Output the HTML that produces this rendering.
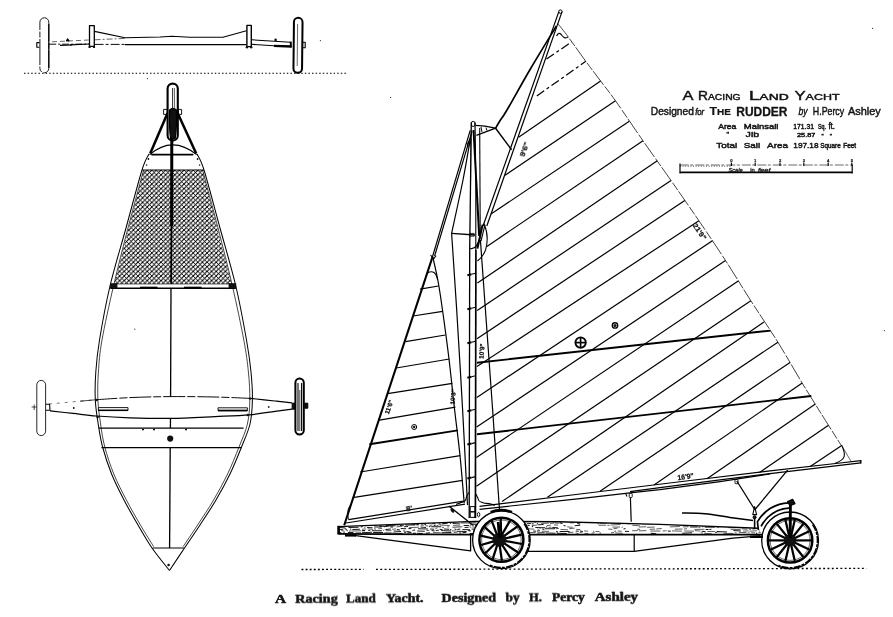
<!DOCTYPE html>
<html lang="en">
<head>
<meta charset="utf-8">
<title>A Racing Land Yacht</title>
<style>
html,body{margin:0;padding:0;background:#fff;}
body{width:893px;height:617px;overflow:hidden;font-family:"Liberation Sans",sans-serif;}
svg{display:block;}
</style>
</head>
<body>
<svg width="893" height="617" viewBox="0 0 893 617" stroke="#000" fill="none" stroke-linecap="butt" stroke-linejoin="round">
<defs>
<pattern id="hatch" width="4.6" height="4.6" patternUnits="userSpaceOnUse">
<path d="M-1,5.6 L5.6,-1 M-1,1 L1,-1 M3.6,5.6 L5.6,3.6" stroke="#000" stroke-width="1.12"/>
<path d="M-1,-1 L5.6,5.6 M-1,3.6 L1,5.6 M3.6,-1 L5.6,1" stroke="#000" stroke-width="0.85"/>
</pattern>
<pattern id="grain" width="7" height="4" patternUnits="userSpaceOnUse">
<path d="M0,1 H4 M2,3 H7 M5.5,1.8 H6.5" stroke="#222" stroke-width="0.9"/>
</pattern>
</defs>
<rect x="0" y="0" width="893" height="617" fill="#fff" stroke="none"/>
<g id="front-view">
<line x1="24.00" y1="73.30" x2="348.00" y2="73.30" stroke-width="1.02" stroke-dasharray="1.5 2.1"/>
<rect x="39.9" y="17.8" width="8.9" height="55" rx="4.4" stroke-width="0.9" fill="#fff" stroke-dasharray="26 1.5 6 1.5"/>
<line x1="48.80" y1="24.00" x2="48.80" y2="68.00" stroke-width="1.2" />
<rect x="293.7" y="17.8" width="8.6" height="55" rx="4.3" stroke-width="2.0" fill="#fff" transform="rotate(0.6 298 45)"/>
<line x1="297.60" y1="24.00" x2="297.20" y2="66.00" stroke-width="0.6" />
<path d="M39.4,42.6 L36.8,42.6 L36.8,47.2 L39.4,47.2" stroke-width="1.08" fill="none" />
<rect x="302.6" y="42.2" width="2.6" height="5.6" stroke-width="1.1"/>
<line x1="49.20" y1="44.20" x2="88.80" y2="44.20" stroke-width="0.96" stroke-dasharray="7 2 2 2"/>
<line x1="60.00" y1="45.40" x2="72.00" y2="45.00" stroke-width="1.08" />
<line x1="70.00" y1="44.80" x2="89.00" y2="44.00" stroke-width="1.2" />
<line x1="94.60" y1="44.40" x2="125.00" y2="44.40" stroke-width="0.96" stroke-dasharray="9 2 3 2"/>
<line x1="125.00" y1="44.60" x2="246.40" y2="44.60" stroke-width="1.2" />
<line x1="52.00" y1="41.80" x2="88.60" y2="40.00" stroke-width="0.6" stroke-dasharray="5 3"/>
<line x1="94.60" y1="39.80" x2="125.00" y2="38.40" stroke-width="0.6" stroke-dasharray="6 2 2 2"/>
<path d="M94.50,31.40 L125.00,37.80 L160.00,37.00 L172.00,36.20 L190.00,37.20 L223.00,37.20 L246.40,30.80" stroke-width="1.08" fill="none" />
<path d="M251.60,39.80 L290.40,42.30" stroke-width="1.08" fill="none" />
<path d="M251.60,44.30 L274.00,45.80" stroke-width="1.08" fill="none" />
<path d="M274.00,45.90 L291.60,46.50" stroke-width="2.28" fill="none" />
<line x1="290.80" y1="41.60" x2="290.80" y2="47.40" stroke-width="1.92" />
<rect x="89.5" y="25.6" width="4.8" height="20.8" stroke-width="1.3" fill="#fff"/>
<rect x="246.9" y="25.4" width="4.4" height="21.2" stroke-width="1.4" fill="#fff"/>
<circle cx="89.6" cy="46.9" r="1.2" fill="#111" stroke="none"/>
<circle cx="94.0" cy="46.9" r="1.2" fill="#111" stroke="none"/>
<circle cx="246.9" cy="47.2" r="1.2" fill="#111" stroke="none"/>
<circle cx="251.2" cy="47.2" r="1.2" fill="#111" stroke="none"/>
<path d="M66.2,41 L67.6,38.6 L69.2,41 Z" stroke-width="0.96" fill="#111" />
<circle cx="275.6" cy="39.9" r="1.3" fill="#111" stroke="none"/>
</g>
<g id="plan-view">
<path d="M143.60,170.00 L202.60,170.00 L231.50,284.00 L114.20,284.00 Z" stroke-width="0.0" fill="url(#hatch)" stroke="none"/>
<path d="M149.00,154.00 C147.83,156.67 145.83,157.67 142.00,170.00 C138.17,182.33 131.33,208.67 126.00,228.00 C120.67,247.33 114.42,267.33 110.00,286.00 C105.58,304.67 101.87,325.67 99.50,340.00 C97.13,354.33 96.50,362.00 95.80,372.00 C95.10,382.00 94.90,391.33 95.30,400.00 C95.70,408.67 96.98,416.17 98.20,424.00 C99.42,431.83 100.37,438.67 102.60,447.00 C104.83,455.33 108.03,465.17 111.60,474.00 C115.17,482.83 119.60,491.50 124.00,500.00 C128.40,508.50 133.33,517.00 138.00,525.00 C142.67,533.00 146.75,540.42 152.00,548.00 C157.25,555.58 166.58,566.75 169.50,570.50" stroke-width="1.02" fill="none" />
<path d="M197.00,154.00 C198.17,156.67 200.17,157.67 204.00,170.00 C207.83,182.33 214.70,208.67 220.00,228.00 C225.30,247.33 231.38,267.33 235.80,286.00 C240.22,304.67 243.97,325.67 246.50,340.00 C249.03,354.33 250.02,362.00 251.00,372.00 C251.98,382.00 252.57,391.33 252.40,400.00 C252.23,408.67 251.82,416.17 250.00,424.00 C248.18,431.83 244.83,438.67 241.50,447.00 C238.17,455.33 234.25,465.17 230.00,474.00 C225.75,482.83 221.00,491.50 216.00,500.00 C211.00,508.50 205.25,517.00 200.00,525.00 C194.75,533.00 189.58,540.42 184.50,548.00 C179.42,555.58 172.00,566.75 169.50,570.50" stroke-width="1.02" fill="none" />
<path d="M143.60,170.00 C141.00,179.67 133.02,208.67 128.00,228.00 C122.98,247.33 117.83,267.33 113.50,286.00 C109.17,304.67 104.52,325.67 102.00,340.00 C99.48,354.33 99.08,362.00 98.40,372.00 C97.72,382.00 97.53,391.33 97.90,400.00 C98.27,408.67 99.45,416.17 100.60,424.00 C101.75,431.83 102.60,438.67 104.80,447.00 C107.00,455.33 110.20,465.17 113.80,474.00 C117.40,482.83 121.97,491.50 126.40,500.00 C130.83,508.50 135.87,517.25 140.40,525.00 C144.93,532.75 151.40,542.92 153.60,546.50" stroke-width="0.72" fill="none" />
<path d="M202.60,170.00 C205.17,179.67 213.03,208.67 218.00,228.00 C222.97,247.33 228.10,267.33 232.40,286.00 C236.70,304.67 241.13,325.67 243.80,340.00 C246.47,354.33 247.40,362.00 248.40,372.00 C249.40,382.00 249.97,391.33 249.80,400.00 C249.63,408.67 249.20,416.17 247.40,424.00 C245.60,431.83 242.30,438.67 239.00,447.00 C235.70,455.33 231.83,465.17 227.60,474.00 C223.37,482.83 218.60,491.50 213.60,500.00 C208.60,508.50 202.67,517.25 197.60,525.00 C192.53,532.75 185.60,542.92 183.20,546.50" stroke-width="0.72" fill="none" />
<line x1="142.00" y1="170.00" x2="204.00" y2="170.00" stroke-width="1.2" />
<path d="M149.6,154.6 Q172.5,135 196.6,154.6" stroke-width="1.2" fill="none" />
<line x1="152.00" y1="154.60" x2="192.60" y2="154.60" stroke-width="1.92" stroke-linecap="round"/>
<circle cx="148.4" cy="159" r="0.9" fill="#111" stroke="none"/>
<circle cx="197.6" cy="159" r="0.9" fill="#111" stroke="none"/>
<circle cx="146.6" cy="165" r="0.8" fill="#111" stroke="none"/>
<circle cx="199.6" cy="165" r="0.8" fill="#111" stroke="none"/>
<line x1="167.60" y1="113.00" x2="150.20" y2="153.60" stroke-width="2.52" />
<line x1="177.60" y1="113.00" x2="196.20" y2="153.60" stroke-width="2.52" />
<rect x="167.6" y="83.6" width="10.2" height="56.8" rx="5.0" stroke-width="2.1" fill="#fff"/>
<path d="M169.6,110 Q169,128 170.6,138.5 L175.2,138.5 Q177,128 176.4,110 Q173,106.5 169.6,110 Z" stroke-width="1.2" fill="#111" />
<line x1="172.60" y1="88.00" x2="172.60" y2="108.00" stroke-width="0.84" />
<line x1="174.40" y1="88.00" x2="174.60" y2="108.00" stroke-width="0.6" />
<rect x="163.6" y="109.4" width="3.6" height="5" stroke-width="0.9"/>
<rect x="178.2" y="109.4" width="3.4" height="5" stroke-width="0.9"/>
<line x1="171.80" y1="138.00" x2="171.60" y2="226.00" stroke-width="3.0" />
<line x1="171.50" y1="226.00" x2="171.20" y2="284.00" stroke-width="1.92" />
<line x1="171.00" y1="288.00" x2="170.60" y2="396.50" stroke-width="1.32" />
<line x1="170.50" y1="418.50" x2="170.40" y2="428.00" stroke-width="1.32" />
<line x1="170.20" y1="447.50" x2="169.60" y2="548.00" stroke-width="1.32" />
<rect x="110.4" y="284.2" width="125.4" height="4.0" stroke="none" fill="#fff"/>
<line x1="114.00" y1="284.00" x2="232.00" y2="284.00" stroke-width="0.6" />
<line x1="110.40" y1="288.30" x2="235.80" y2="288.30" stroke-width="1.5" />
<rect x="110" y="283.2" width="7.4" height="5.2" fill="#111" stroke="none"/>
<rect x="228.6" y="283.2" width="7.6" height="5.2" fill="#111" stroke="none"/>
<line x1="140.00" y1="287.80" x2="157.50" y2="287.80" stroke-width="2.28" />
<line x1="184.00" y1="287.80" x2="201.50" y2="287.80" stroke-width="2.28" />
<path d="M95.40,399.80 C101.17,399.43 117.57,398.13 130.00,397.60 C142.43,397.07 155.83,396.70 170.00,396.60 C184.17,396.50 201.58,396.70 215.00,397.00 C228.42,397.30 244.58,398.17 250.50,398.40" stroke-width="0.96" fill="none" stroke-dasharray="22 2 8 2"/>
<line x1="48.80" y1="404.00" x2="95.40" y2="399.80" stroke-width="0.54" stroke-dasharray="3 5"/>
<line x1="80.00" y1="401.20" x2="95.40" y2="399.80" stroke-width="0.72" />
<path d="M250.50,398.40 C254.58,398.83 268.08,400.25 275.00,401.00 C281.92,401.75 289.17,402.58 292.00,402.90" stroke-width="1.08" fill="none" />
<path d="M50.00,410.90 C53.83,411.32 65.25,412.55 73.00,413.40 C80.75,414.25 87.00,415.27 96.50,416.00 C106.00,416.73 117.75,417.40 130.00,417.80 C142.25,418.20 155.83,418.60 170.00,418.40 C184.17,418.20 201.77,417.20 215.00,416.60 C228.23,416.00 239.40,415.67 249.40,414.80 C259.40,413.93 267.90,412.33 275.00,411.40 C282.10,410.47 289.17,409.57 292.00,409.20" stroke-width="1.2" fill="none" />
<rect x="98.4" y="407.6" width="29.6" height="2.9" stroke-width="0.9" fill="#fff"/>
<line x1="98.40" y1="410.30" x2="128.00" y2="410.30" stroke-width="1.56" />
<rect x="218" y="407.8" width="29.4" height="2.9" stroke-width="0.9" fill="#fff"/>
<line x1="218.00" y1="410.50" x2="247.40" y2="410.50" stroke-width="1.68" />
<circle cx="73.8" cy="408" r="0.9" fill="#111" stroke="none"/>
<circle cx="268.7" cy="406.9" r="0.9" fill="#111" stroke="none"/>
<circle cx="96.6" cy="400" r="1.2" fill="#111" stroke="none"/>
<circle cx="97.6" cy="417" r="1.3" fill="#111" stroke="none"/>
<circle cx="250.0" cy="398.6" r="1.2" fill="#111" stroke="none"/>
<circle cx="247.8" cy="415" r="1.2" fill="#111" stroke="none"/>
<rect x="36.8" y="380.4" width="8.8" height="55.2" rx="4.4" stroke-width="0.85" fill="#fff"/>
<line x1="31.60" y1="407.00" x2="36.60" y2="407.00" stroke-width="0.72" />
<line x1="34.20" y1="404.50" x2="34.20" y2="410.00" stroke-width="0.72" />
<path d="M46,404.2 L49.6,404.2 L50,410.2 L46,410.2" stroke-width="1.08" fill="none" />
<rect x="295.4" y="378.6" width="8.4" height="55.8" rx="4.2" stroke-width="2.0" fill="#fff"/>
<line x1="298.00" y1="383.00" x2="298.00" y2="431.00" stroke-width="1.08" />
<line x1="299.80" y1="390.00" x2="299.80" y2="431.00" stroke-width="0.72" />
<line x1="301.60" y1="383.00" x2="301.60" y2="431.00" stroke-width="1.08" />
<rect x="292.2" y="403.2" width="2.6" height="6" stroke-width="1.0" fill="#111"/>
<rect x="304.8" y="403.2" width="3.0" height="5" stroke-width="1.0" fill="#111"/>
<line x1="98.80" y1="428.20" x2="243.60" y2="428.20" stroke-width="1.2" />
<line x1="101.40" y1="447.60" x2="241.40" y2="447.60" stroke-width="1.2" />
<circle cx="170.2" cy="438.6" r="3.1" fill="#111" stroke="none"/>
<line x1="142.00" y1="429.60" x2="144.00" y2="429.60" stroke-width="1.44" />
<line x1="153.00" y1="429.60" x2="155.00" y2="429.60" stroke-width="1.44" />
<line x1="185.00" y1="429.60" x2="187.00" y2="429.60" stroke-width="1.44" />
<line x1="152.60" y1="548.00" x2="184.20" y2="548.00" stroke-width="1.08" />
<circle cx="168.6" cy="565" r="1.3" fill="#111" stroke="none"/>
</g>
<g id="side-view">
<line x1="301.50" y1="569.50" x2="363.50" y2="569.40" stroke-width="1.32" stroke-dasharray="1.9 2.2"/>
<line x1="376.00" y1="569.40" x2="866.40" y2="568.40" stroke-width="1.32" stroke-dasharray="1.9 2.4"/>
<line x1="546.50" y1="59.00" x2="571.60" y2="42.00" stroke-width="1.2" stroke-dasharray="9 3 3 3"/>
<line x1="536.80" y1="96.00" x2="585.80" y2="61.30" stroke-width="1.2" stroke-dasharray="9 3 3 3"/>
<line x1="518.60" y1="137.20" x2="600.60" y2="81.00" stroke-width="1.2" />
<line x1="505.00" y1="175.30" x2="615.50" y2="100.80" stroke-width="1.2" />
<line x1="491.00" y1="214.00" x2="629.30" y2="121.30" stroke-width="1.2" />
<line x1="486.90" y1="246.40" x2="643.00" y2="140.80" stroke-width="1.2" />
<line x1="477.40" y1="283.10" x2="657.30" y2="160.80" stroke-width="1.2" />
<line x1="477.20" y1="310.40" x2="671.00" y2="180.50" stroke-width="1.2" />
<line x1="477.00" y1="338.70" x2="684.80" y2="200.50" stroke-width="1.2" />
<line x1="477.00" y1="366.60" x2="698.90" y2="220.70" stroke-width="1.2" />
<line x1="476.80" y1="397.40" x2="712.40" y2="240.80" stroke-width="1.2" />
<line x1="476.60" y1="427.00" x2="725.50" y2="260.50" stroke-width="1.2" />
<line x1="476.40" y1="457.40" x2="738.60" y2="280.80" stroke-width="1.2" />
<line x1="476.40" y1="486.20" x2="750.80" y2="300.70" stroke-width="1.2" />
<line x1="502.00" y1="501.60" x2="764.00" y2="322.00" stroke-width="1.2" />
<line x1="547.40" y1="497.20" x2="777.90" y2="342.20" stroke-width="1.2" />
<line x1="600.00" y1="491.20" x2="790.00" y2="362.40" stroke-width="1.2" />
<line x1="654.00" y1="485.00" x2="802.20" y2="383.10" stroke-width="1.2" />
<line x1="707.00" y1="478.80" x2="815.40" y2="404.00" stroke-width="1.2" />
<line x1="759.40" y1="472.60" x2="828.50" y2="425.30" stroke-width="1.2" />
<line x1="810.20" y1="466.60" x2="841.70" y2="445.50" stroke-width="1.2" />
<path d="M558.00,23.80 C559.70,25.98 563.57,30.65 568.20,36.90 C572.83,43.15 580.40,53.95 585.80,61.30 C591.20,68.65 595.65,74.42 600.60,81.00 C605.55,87.58 608.43,90.83 615.50,100.80 C622.57,110.77 633.75,127.52 643.00,140.80 C652.25,154.08 661.68,167.18 671.00,180.50 C680.32,193.82 689.82,207.37 698.90,220.70 C707.98,234.03 716.85,247.17 725.50,260.50 C734.15,273.83 742.07,287.08 750.80,300.70 C759.53,314.32 769.33,328.47 777.90,342.20 C786.47,355.93 793.77,369.25 802.20,383.10 C810.63,396.95 822.03,414.98 828.50,425.30 C834.97,435.62 838.92,441.72 841.00,445.00" stroke-width="0.74" fill="none" stroke-dasharray="17 2 9 1.5"/>
<path d="M841.6,445 Q845.2,453 844.2,456.4 Q843,460.6 834.8,463.4" stroke-width="1.08" fill="none" />
<line x1="842.60" y1="447.00" x2="851.20" y2="461.60" stroke-width="0.6" />
<path d="M556.6,36 Q559,31 562,35.5 Q565,39.5 568.2,36.9" stroke-width="1.2" fill="none" />
<line x1="477.00" y1="362.70" x2="770.60" y2="330.60" stroke-width="1.92" />
<line x1="477.00" y1="434.20" x2="811.30" y2="396.00" stroke-width="1.92" />
<path d="M479.50,506.40 L580.00,494.00 L680.00,481.80 L770.00,470.90 L838.00,463.20 L860.80,460.60" stroke-width="1.08" fill="none" />
<path d="M630.00,491.60 L660.00,487.70 L720.00,479.80 L770.00,473.70 L860.80,462.90" stroke-width="1.2" fill="none" />
<path d="M479.50,509.30 L580.00,498.60 L630.00,492.80 L660.00,489.60 L720.00,481.60 L770.00,474.00" stroke-width="1.2" fill="none" />
<line x1="860.80" y1="460.00" x2="860.80" y2="463.60" stroke-width="1.44" />
<line x1="558.85" y1="11.60" x2="483.01" y2="226.00" stroke-width="1.2" />
<line x1="562.05" y1="11.60" x2="486.81" y2="226.00" stroke-width="1.2" />
<circle cx="560.4" cy="11.6" r="1.7" stroke-width="1"/>
<path d="M483.8,223.6 Q489.6,236 485.6,250 Q482.8,257 477.4,261" stroke-width="1.08" fill="none" />
<path d="M470.2,248.4 Q474,249.4 476.6,245.6 Q479.2,241.6 480,237" stroke-width="1.32" fill="none" />
<line x1="482.60" y1="224.60" x2="477.40" y2="248.60" stroke-width="2.04" />
<line x1="485.00" y1="224.60" x2="481.00" y2="241.00" stroke-width="1.08" />
<path d="M556.40,26.00 C552.03,33.20 538.43,55.20 530.20,69.20 C521.97,83.20 512.12,101.28 507.00,110.00 C501.88,118.72 501.40,118.47 499.50,121.50 C497.60,124.53 496.25,127.08 495.60,128.20" stroke-width="1.68" fill="none" />
<line x1="495.60" y1="128.20" x2="511.60" y2="149.80" stroke-width="1.44" />
<path d="M475.60,125.40 L485.00,126.20 L495.60,128.20 L476.40,135.40" stroke-width="1.32" fill="none" />
<line x1="481.00" y1="127.00" x2="482.00" y2="132.00" stroke-width="0.96" />
<line x1="486.00" y1="127.60" x2="487.00" y2="130.60" stroke-width="0.96" />
<line x1="471.30" y1="122.50" x2="469.70" y2="250.00" stroke-width="1.32" />
<line x1="469.70" y1="250.00" x2="469.20" y2="518.00" stroke-width="1.32" />
<line x1="475.00" y1="122.50" x2="475.80" y2="180.00" stroke-width="1.2" />
<line x1="473.50" y1="130.00" x2="476.20" y2="180.00" stroke-width="1.92" />
<line x1="476.20" y1="180.00" x2="479.20" y2="236.00" stroke-width="2.04" />
<line x1="475.80" y1="180.00" x2="475.80" y2="250.00" stroke-width="1.08" />
<line x1="475.90" y1="250.00" x2="475.40" y2="518.00" stroke-width="1.68" />
<line x1="479.70" y1="128.00" x2="480.20" y2="232.00" stroke-width="1.08" />
<rect x="471.4" y="121.4" width="3.6" height="5" rx="1.6" stroke-width="1.0"/>
<line x1="470.80" y1="138.00" x2="470.60" y2="180.00" stroke-width="0.6" />
<line x1="467.40" y1="275.20" x2="471.40" y2="274.20" stroke-width="2.04" />
<line x1="471.40" y1="274.20" x2="475.60" y2="273.20" stroke-width="1.08" />
<line x1="467.40" y1="309.20" x2="471.40" y2="308.20" stroke-width="2.04" />
<line x1="471.40" y1="308.20" x2="475.60" y2="307.20" stroke-width="1.08" />
<line x1="467.40" y1="343.20" x2="471.40" y2="342.20" stroke-width="2.04" />
<line x1="471.40" y1="342.20" x2="475.60" y2="341.20" stroke-width="1.08" />
<line x1="467.40" y1="377.70" x2="471.40" y2="376.70" stroke-width="2.04" />
<line x1="471.40" y1="376.70" x2="475.60" y2="375.70" stroke-width="1.08" />
<line x1="467.40" y1="411.20" x2="471.40" y2="410.20" stroke-width="2.04" />
<line x1="471.40" y1="410.20" x2="475.60" y2="409.20" stroke-width="1.08" />
<line x1="467.40" y1="444.60" x2="471.40" y2="443.60" stroke-width="2.04" />
<line x1="471.40" y1="443.60" x2="475.60" y2="442.60" stroke-width="1.08" />
<line x1="467.40" y1="478.60" x2="471.40" y2="477.60" stroke-width="2.04" />
<line x1="471.40" y1="477.60" x2="475.60" y2="476.60" stroke-width="1.08" />
<rect x="470.2" y="506.6" width="4.8" height="5.2" stroke-width="1"/>
<rect x="470.2" y="511.8" width="4.8" height="5.6" stroke-width="1"/>
<ellipse cx="478.6" cy="514.6" rx="1.2" ry="2.2" stroke-width="0.9"/>
<path d="M475.80,493.60 C476.10,494.27 477.03,496.37 477.60,497.60 C478.17,498.83 478.47,500.23 479.20,501.00 C479.93,501.77 481.10,501.83 482.00,502.20 C482.90,502.57 483.43,502.97 484.60,503.20 C485.77,503.43 487.27,503.27 489.00,503.60 C490.73,503.93 494.00,504.93 495.00,505.20" stroke-width="1.08" fill="none" />
<path d="M468.80,492.60 C468.43,493.23 467.17,495.10 466.60,496.40 C466.03,497.70 466.30,499.37 465.40,500.40 C464.50,501.43 462.77,501.93 461.20,502.60 C459.63,503.27 456.87,504.10 456.00,504.40" stroke-width="1.08" fill="none" />
<line x1="480.40" y1="240.00" x2="492.50" y2="408.00" stroke-width="1.2" />
<line x1="492.50" y1="408.00" x2="499.60" y2="511.60" stroke-width="1.2" />
<path d="M470.40,138.40 C469.17,145.33 466.13,164.18 463.00,180.00 C459.87,195.82 453.50,224.42 451.60,233.30" stroke-width="1.2" fill="none" />
<path d="M451.60,233.30 C451.73,235.25 451.55,232.22 452.40,245.00 C453.25,257.78 455.02,282.83 456.70,310.00 C458.38,337.17 460.70,375.50 462.50,408.00 C464.30,440.50 466.67,488.83 467.50,505.00" stroke-width="1.2" fill="none" />
<line x1="451.60" y1="233.30" x2="474.80" y2="235.00" stroke-width="1.32" />
<rect x="469.8" y="233.4" width="4.4" height="2.8" stroke-width="0.8"/>
<line x1="470.20" y1="130.40" x2="432.40" y2="257.00" stroke-width="1.2" />
<line x1="472.00" y1="131.40" x2="434.60" y2="256.00" stroke-width="1.2" />
<ellipse cx="469.0" cy="143.4" rx="1.3" ry="3.0" transform="rotate(17 469 143.4)" stroke-width="0.9"/>
<line x1="432.60" y1="256.60" x2="344.20" y2="525.20" stroke-width="2.04" />
<path d="M430.6,255 L433.6,259 L436,255.6" stroke-width="1.08" fill="none" />
<path d="M432.80,257.00 C433.67,261.00 436.38,272.17 438.00,281.00 C439.62,289.83 440.67,297.00 442.50,310.00 C444.33,323.00 447.02,342.67 449.00,359.00 C450.98,375.33 452.57,391.92 454.40,408.00 C456.23,424.08 458.37,439.67 460.00,455.50 C461.63,471.33 463.50,495.08 464.20,503.00" stroke-width="1.2" fill="none" />
<path d="M427.4,273 Q435.4,268.6 437.6,280" stroke-width="1.08" fill="none" />
<line x1="420.00" y1="289.20" x2="438.60" y2="286.00" stroke-width="1.2" />
<line x1="413.00" y1="316.00" x2="442.60" y2="311.40" stroke-width="1.2" />
<line x1="405.60" y1="341.60" x2="445.40" y2="335.00" stroke-width="1.2" />
<line x1="396.20" y1="368.00" x2="449.40" y2="359.00" stroke-width="1.2" />
<line x1="387.60" y1="393.60" x2="452.40" y2="383.40" stroke-width="1.2" />
<line x1="378.00" y1="420.40" x2="455.40" y2="407.20" stroke-width="1.2" />
<line x1="369.40" y1="444.20" x2="457.80" y2="430.40" stroke-width="1.92" />
<line x1="360.20" y1="472.00" x2="460.20" y2="455.60" stroke-width="1.2" />
<line x1="352.60" y1="497.60" x2="462.60" y2="480.40" stroke-width="1.2" />
<circle cx="414.2" cy="427" r="2.5" stroke-width="1.0"/>
<circle cx="414.2" cy="427" r="1.2" fill="#111" stroke="none"/>
<line x1="348.60" y1="519.60" x2="463.40" y2="501.20" stroke-width="1.2" />
<line x1="346.00" y1="523.00" x2="465.00" y2="504.20" stroke-width="1.2" />
<path d="M348.6,519.6 Q346,510 350.6,505" stroke-width="0.84" fill="none" />
<line x1="448.80" y1="506.00" x2="473.40" y2="525.40" stroke-width="1.32" />
<ellipse cx="452.4" cy="510.6" rx="1.4" ry="2.4" transform="rotate(-38 452.4 510.6)" fill="#111" stroke="none"/>
<clipPath id="plankclip"><path d="M338.4,526.6 L475.0,521.4 L558.0,521.8 L660.0,524.4 L758.0,528.2 L762.0,534.6 L634.0,534.6 L475.0,534.6 L338.4,533.6 Z"/></clipPath>
<g clip-path="url(#plankclip)" stroke="#1a1a1a">
<path d="M339.3,533.1l2.0,-0.5M343.5,532.6l1.2,-0.5M347.9,532.5l5.5,0.1M355.6,533.0l5.5,-0.1M361.9,532.7l10.0,-0.4M373.1,532.5l10.0,0.1M384.3,533.0l7.5,0.1M392.6,532.9l10.0,0.5M404.2,532.5l2.0,-0.2M407.4,533.0l4.0,-0.5M413.0,533.3l3.0,-0.1M417.2,533.2l5.5,0.4M425.9,533.2l4.0,-0.5M441.4,532.7l10.0,-0.1M459.2,532.8l2.0,0.5M462.4,532.7l4.0,-0.4M469.6,533.4l7.5,0.2M506.1,532.5l1.2,-0.3M508.5,532.4l1.2,-0.4M510.5,533.3l1.2,0.1M518.7,532.9l4.0,-0.5M537.2,533.1l7.5,-0.3M545.5,532.9l10.0,0.3M556.7,533.2l10.0,0.4M599.6,532.9l1.2,0.3M650.7,533.2l5.5,0.5M682.2,533.3l10.0,-0.5M715.1,532.5l2.0,-0.5M756.0,533.4l1.2,-0.5M346.5,530.6l1.2,0.2M349.3,531.3l1.2,-0.5M362.1,530.6l3.0,0.0M368.3,530.6l2.0,-0.4M371.9,530.8l10.0,0.0M393.6,531.0l7.5,0.5M403.3,530.8l2.0,0.4M406.5,531.5l4.0,0.4M417.3,531.1l7.5,0.2M431.6,530.5l3.0,0.5M435.8,530.6l3.0,-0.3M441.0,530.6l10.0,0.4M456.6,531.2l10.0,0.3M467.8,530.6l3.0,0.3M473.0,531.1l10.0,0.3M517.9,531.2l5.5,-0.5M533.2,531.1l3.0,0.2M537.0,531.1l3.0,-0.4M556.1,531.5l2.0,0.5M559.7,531.5l10.0,-0.1M575.7,531.1l3.0,0.2M579.9,531.0l3.0,0.5M625.0,531.3l4.0,0.2M667.8,530.9l3.0,0.4M701.7,531.3l4.0,0.4M717.0,531.4l10.0,0.6M733.4,530.6l7.5,0.3M759.1,530.9l5.5,-0.3M339.2,529.6l4.0,0.2M344.8,528.8l2.0,0.6M350.0,529.1l1.2,0.2M352.4,529.5l7.5,-0.3M385.4,529.5l5.5,-0.5M396.9,529.6l3.0,0.5M400.7,528.6l5.5,0.2M408.4,528.8l3.0,-0.6M418.0,528.7l10.0,0.2M430.2,528.9l4.0,0.3M439.6,529.3l3.0,0.5M443.8,528.9l5.5,0.3M450.1,529.5l1.2,0.2M454.5,529.1l2.0,0.5M457.3,529.4l3.0,-0.4M462.5,529.4l7.5,0.3M471.6,529.0l3.0,0.3M476.8,528.8l10.0,-0.5M514.3,529.2l3.0,-0.2M542.3,529.0l2.0,0.4M545.1,528.7l10.0,0.1M623.5,528.9l2.0,-0.4M705.6,529.4l3.0,0.0M709.4,529.5l2.0,-0.2M752.5,528.9l5.5,-0.6M339.8,527.4l5.5,0.5M348.5,527.4l10.0,-0.2M360.7,527.0l2.0,-0.5M367.1,527.4l5.5,0.3M374.2,527.1l7.5,-0.2M383.9,526.7l5.5,-0.6M390.2,526.9l3.0,0.1M404.1,526.8l4.0,-0.4M420.5,527.1l5.5,0.5M429.2,526.8l1.2,-0.6M431.2,526.7l10.0,0.1M464.6,527.4l4.0,-0.1M476.0,527.0l5.5,0.5M483.1,526.9l5.5,0.5M489.4,526.9l2.0,-0.1M511.4,527.6l1.2,-0.4M515.8,527.7l2.0,0.2M531.9,526.8l1.2,-0.4M535.3,527.5l10.0,0.2M546.1,527.0l1.2,-0.2M552.3,527.6l5.5,0.1M690.1,526.9l7.5,0.2M338.2,525.0l5.5,0.3M344.9,525.3l1.2,-0.4M349.3,525.3l10.0,-0.1M369.6,525.1l3.0,-0.1M373.4,525.4l4.0,-0.5M379.0,525.8l5.5,0.6M385.7,525.6l10.0,0.2M399.7,525.6l4.0,0.2M405.3,525.1l10.0,-0.1M416.5,524.8l2.0,0.3M433.7,525.5l2.0,-0.3M463.6,525.5l5.5,-0.1M469.9,525.0l3.0,-0.4M475.1,525.5l4.0,-0.3M480.3,525.0l7.5,-0.2M505.3,525.0l2.0,-0.1M517.2,525.1l3.0,-0.3M527.6,525.6l2.0,-0.2M538.1,524.8l5.5,-0.2M563.6,525.5l2.0,0.4M574.7,525.7l5.5,-0.4M759.7,525.6l3.0,0.3M352.0,523.4l5.5,0.1M359.1,523.3l2.0,0.1M362.7,522.9l2.0,0.6M365.9,523.7l7.5,-0.4M384.3,523.5l4.0,-0.3M391.5,523.7l4.0,0.6M398.7,523.3l2.0,-0.6M411.6,523.8l7.5,0.2M421.3,523.9l2.0,0.2M424.1,523.9l2.0,0.6M432.3,523.6l3.0,0.2M438.5,523.7l2.0,0.5M442.1,523.7l5.5,-0.5M449.8,523.4l1.2,-0.4M452.6,523.4l7.5,0.5M472.1,523.9l10.0,0.5M484.3,523.9l1.2,-0.2M487.7,523.2l3.0,0.3M491.9,523.8l2.0,-0.3M496.1,523.7l3.0,-0.2M518.5,523.9l3.0,-0.6M522.7,522.9l2.0,0.4M526.9,523.8l4.0,-0.3M531.7,523.7l2.0,0.3M536.9,523.6l1.2,0.3M559.6,523.1l3.0,0.4M577.2,523.5l3.0,0.5M678.2,523.0l1.2,-0.5M682.6,523.0l1.2,-0.2M704.4,523.5l3.0,0.1M338.5,521.1l10.0,0.3M349.3,521.5l5.5,0.3M356.0,521.8l4.0,-0.3M370.9,521.5l4.0,-0.4M377.1,521.7l5.5,-0.5M384.8,521.9l10.0,0.6M400.0,521.6l10.0,0.6M411.6,521.5l7.5,-0.2M421.3,521.6l1.2,-0.5M423.3,521.3l5.5,-0.4M445.2,521.5l1.2,-0.2M450.4,521.7l5.5,0.0M458.1,521.3l2.0,0.2M470.6,522.0l5.5,-0.1M479.3,522.1l5.5,0.1M488.0,521.9l2.0,-0.5M493.2,521.9l5.5,0.1M500.9,521.4l1.2,0.3M505.3,522.0l3.0,0.5M516.8,521.2l1.2,-0.3M520.2,521.4l5.5,0.5M534.0,521.8l2.0,0.1M538.2,521.1l7.5,0.4M547.9,521.1l4.0,0.5M559.3,521.7l4.0,-0.1M606.3,521.1l10.0,0.3M618.5,521.8l7.5,0.3M628.8,521.2l3.0,-0.2" stroke-width="1.05"/>
<path d="M433.1,532.5l7.5,0.2M453.6,532.6l4.0,-0.5M479.3,532.6l1.2,0.2M481.7,532.7l2.0,-0.4M485.3,533.1l3.0,0.0M492.9,532.8l10.0,-0.1M512.5,532.8l3.0,-0.5M524.9,533.2l3.0,-0.4M530.1,532.5l5.5,0.1M567.9,532.8l5.5,-0.6M575.6,533.1l3.0,0.5M579.8,532.5l3.0,-0.5M584.4,533.4l4.0,0.1M591.6,533.2l3.0,-0.5M611.0,532.9l3.0,-0.4M615.2,532.9l7.5,0.5M700.8,532.9l2.0,0.0M704.4,533.3l7.5,0.5M723.5,533.3l10.0,0.2M734.7,532.6l2.0,0.5M738.9,532.6l7.5,-0.1M747.6,532.7l2.0,0.3M751.2,532.8l4.0,0.0M758.4,532.7l10.0,-0.4M341.3,530.6l3.0,0.5M351.3,531.0l10.0,-0.2M383.1,530.5l1.2,-0.6M385.9,530.7l5.5,-0.1M412.1,530.7l3.0,-0.5M426.4,530.5l3.0,-0.2M451.8,530.8l4.0,0.2M486.2,531.1l5.5,0.4M494.9,530.6l10.0,-0.5M506.1,531.1l4.0,0.2M512.3,530.5l4.0,0.4M524.2,530.7l1.2,0.3M541.6,531.2l7.5,0.2M584.1,530.9l4.0,0.3M593.1,531.2l1.2,0.5M595.5,531.5l4.0,0.1M614.2,531.3l2.0,-0.1M617.8,531.0l4.0,0.3M632.2,530.7l5.5,-0.1M638.9,530.9l7.5,-0.3M650.4,531.1l10.0,-0.1M662.6,531.0l4.0,-0.3M672.0,530.9l10.0,0.3M684.2,531.0l10.0,0.1M695.0,530.6l5.5,0.5M707.3,531.5l7.5,-0.0M743.1,531.1l5.5,-0.2M749.4,531.2l7.5,-0.5M362.1,529.3l4.0,-0.4M367.7,528.8l5.5,0.6M374.0,528.8l2.0,0.3M378.2,528.8l4.0,-0.3M392.1,529.3l4.0,-0.4M413.6,529.6l1.2,-0.4M435.4,528.6l2.0,-0.6M492.2,528.7l3.0,-0.5M498.4,528.8l4.0,-0.1M503.6,529.4l7.5,0.2M528.8,528.8l5.5,0.4M537.5,529.1l1.2,0.4M539.5,528.8l1.2,-0.5M555.9,528.7l3.0,-0.4M560.5,529.4l7.5,0.4M569.2,528.7l5.5,-0.6M576.3,529.4l4.0,0.2M608.3,529.0l4.0,0.4M613.5,528.7l4.0,-0.5M637.1,529.2l3.0,0.2M649.6,529.4l5.5,-0.4M656.3,529.0l5.5,-0.5M674.9,529.2l7.5,-0.2M684.0,529.1l3.0,-0.4M694.4,529.4l10.0,-0.1M730.6,529.3l10.0,0.3M741.8,528.8l5.5,0.5M748.9,529.1l2.0,0.5M364.3,527.5l1.2,-0.3M396.4,526.9l5.5,-0.6M408.9,527.7l10.0,-0.5M442.0,527.3l2.0,0.0M447.2,527.0l2.0,-0.2M452.4,527.4l10.0,-0.6M469.4,526.8l2.0,0.5M472.2,527.0l3.0,0.1M493.0,527.2l10.0,0.4M506.2,527.3l4.0,-0.2M519.4,527.4l7.5,0.3M548.5,527.4l3.0,-0.2M567.2,526.9l5.5,0.4M612.5,527.1l7.5,-0.1M621.6,527.6l1.2,-0.6M638.9,527.0l7.5,-0.2M647.2,527.4l7.5,-0.4M669.8,526.9l10.0,-0.4M683.0,526.9l5.5,-0.2M698.4,527.4l2.0,-0.1M702.0,526.9l1.2,-0.1M704.8,527.4l10.0,0.0M717.0,527.3l2.0,-0.1M727.8,527.6l7.5,0.2M738.5,527.3l3.0,-0.5M743.1,527.0l7.5,-0.1M751.8,527.4l4.0,0.5M360.9,525.2l7.5,0.3M396.5,525.2l2.0,0.2M420.7,525.3l3.0,-0.1M425.3,525.7l3.0,0.4M429.5,525.3l3.0,-0.2M436.5,525.6l2.0,-0.2M439.7,525.0l10.0,0.5M452.9,525.6l7.5,0.4M493.8,525.4l1.2,0.2M496.2,525.6l7.5,-0.5M508.1,525.1l7.5,0.3M522.4,525.2l3.0,0.0M531.8,525.6l5.5,-0.6M546.8,525.6l4.0,-0.5M554.0,524.9l4.0,0.2M598.7,525.3l7.5,-0.1M607.4,525.4l2.0,-0.1M610.6,525.0l10.0,-0.5M632.3,525.3l7.5,0.5M680.2,525.6l4.0,-0.1M704.2,525.4l10.0,-0.2M721.6,525.1l10.0,-0.6M746.8,525.1l7.5,-0.5M756.5,525.1l2.0,-0.5M341.2,523.1l10.0,0.1M375.6,522.9l5.5,-0.6M401.9,523.4l7.5,0.4M427.7,523.0l3.0,0.1M460.9,523.0l10.0,0.1M507.5,523.5l1.2,0.4M515.1,523.2l1.2,0.5M541.3,523.5l7.5,-0.4M550.0,523.4l4.0,-0.2M554.8,522.9l4.0,0.5M570.0,523.0l4.0,-0.2M597.7,523.8l1.2,0.3M599.7,523.4l7.5,-0.3M610.4,522.9l1.2,-0.5M612.8,523.0l3.0,-0.1M627.8,523.8l2.0,-0.1M636.9,523.1l3.0,-0.2M642.1,523.7l10.0,0.4M662.8,523.4l3.0,-0.5M673.8,523.2l1.2,0.2M709.6,523.4l7.5,0.1M718.7,523.1l3.0,-0.3M730.2,523.5l2.0,-0.0M733.8,523.7l3.0,-0.4M737.6,523.4l4.0,0.4M749.1,523.6l4.0,-0.4M362.2,521.7l5.5,0.2M398.0,521.1l1.2,0.1M432.0,522.0l10.0,0.1M447.6,521.8l2.0,-0.2M462.3,521.8l7.5,-0.6M476.9,521.3l1.2,0.3M509.1,521.1l5.5,-0.3M553.1,522.0l3.0,-0.2M578.1,521.5l2.0,0.3M581.7,522.1l2.0,0.0M588.9,521.5l5.5,0.0M642.7,522.0l10.0,-0.4M670.6,521.5l2.0,0.1M690.8,522.1l7.5,0.2M710.7,521.9l4.0,-0.3M717.9,522.0l4.0,0.2M724.1,521.6l7.5,0.2M758.2,521.6l7.5,-0.3" stroke-width="0.7"/>
</g>
<path d="M338.40,526.60 L475.00,521.40 L558.00,521.80 L660.00,524.40 L758.00,528.20" stroke-width="1.44" fill="none" />
<path d="M338.40,533.80 L475.00,534.60 L762.00,534.60" stroke-width="1.68" fill="none" />
<line x1="338.60" y1="525.80" x2="338.60" y2="534.40" stroke-width="2.64" />
<path d="M352.00,535.20 L470.60,550.80 L470.60,534.60" stroke-width="1.32" fill="none" />
<path d="M527.00,551.40 L634.20,551.40 L634.20,534.60" stroke-width="1.2" fill="none" />
<path d="M634.20,551.40 L733.00,538.20 L760.00,535.80" stroke-width="1.2" fill="none" />
<line x1="345.00" y1="535.40" x2="356.00" y2="535.40" stroke-width="2.4" />
<rect x="629.2" y="493.2" width="3.0" height="4.4" rx="1" stroke-width="0.9"/>
<line x1="630.40" y1="497.60" x2="631.20" y2="521.80" stroke-width="1.2" />
<line x1="625.60" y1="493.60" x2="627.00" y2="496.60" stroke-width="1.08" />
<rect x="735" y="479.4" width="3.0" height="4.4" rx="1" stroke-width="0.9"/>
<line x1="736.80" y1="481.00" x2="754.40" y2="509.00" stroke-width="1.32" />
<line x1="754.60" y1="510.00" x2="787.60" y2="470.20" stroke-width="1.32" />
<path d="M752.8,514.6 L754.6,506.6 L756.6,514.6 Z" stroke-width="1.08" fill="none" />
<circle cx="754.6" cy="517.2" r="1.9" fill="#111" stroke="none"/>
<line x1="754.60" y1="518.00" x2="754.60" y2="529.00" stroke-width="1.56" />
<path d="M682.00,513.00 C685.83,513.13 697.00,513.07 705.00,513.80 C713.00,514.53 722.00,516.27 730.00,517.40 C738.00,518.53 749.17,520.07 753.00,520.60" stroke-width="1.56" fill="none" />
<circle cx="501.4" cy="539.8" r="28.8" stroke-width="1.3" fill="#fff"/>
<path d="M524.17,523.85 A27.8,27.8 0 0 1 489.65,565.00" stroke-width="1.5" stroke-dasharray="7 1.2 3 1"/>
<circle cx="501.4" cy="539.8" r="22.0" stroke-width="2.5"/>
<circle cx="501.4" cy="539.8" r="19.8" stroke-width="0.6"/>
<line x1="503.52" y1="540.63" x2="521.98" y2="543.97" stroke-width="2.22" />
<line x1="502.75" y1="542.34" x2="518.13" y2="552.49" stroke-width="2.22" />
<line x1="501.31" y1="543.54" x2="510.97" y2="558.49" stroke-width="2.22" />
<line x1="499.50" y1="544.00" x2="501.91" y2="560.79" stroke-width="2.22" />
<line x1="497.67" y1="543.63" x2="492.75" y2="558.94" stroke-width="2.22" />
<line x1="496.18" y1="542.50" x2="485.31" y2="553.29" stroke-width="2.22" />
<line x1="495.33" y1="540.83" x2="481.05" y2="544.97" stroke-width="2.22" />
<line x1="495.28" y1="538.97" x2="480.82" y2="535.63" stroke-width="2.22" />
<line x1="496.05" y1="537.26" x2="484.67" y2="527.11" stroke-width="2.22" />
<line x1="497.49" y1="536.06" x2="491.83" y2="521.11" stroke-width="2.22" />
<line x1="499.30" y1="535.60" x2="500.89" y2="518.81" stroke-width="2.22" />
<line x1="501.13" y1="535.97" x2="510.05" y2="520.66" stroke-width="2.22" />
<line x1="502.62" y1="537.10" x2="517.49" y2="526.31" stroke-width="2.22" />
<line x1="503.47" y1="538.77" x2="521.75" y2="534.63" stroke-width="2.22" />
<circle cx="499.4" cy="539.8" r="7.0" fill="#111" stroke="none"/>
<circle cx="790.1" cy="540.4" r="28.4" stroke-width="1.3" fill="#fff"/>
<path d="M812.54,524.68 A27.4,27.4 0 0 1 778.52,565.23" stroke-width="1.5" stroke-dasharray="7 1.2 3 1"/>
<circle cx="790.1" cy="540.4" r="22.2" stroke-width="2.5"/>
<circle cx="790.1" cy="540.4" r="20.0" stroke-width="0.6"/>
<line x1="793.82" y1="540.40" x2="811.30" y2="540.40" stroke-width="2.22" />
<line x1="793.45" y1="542.01" x2="809.20" y2="549.60" stroke-width="2.22" />
<line x1="792.42" y1="543.31" x2="803.32" y2="556.97" stroke-width="2.22" />
<line x1="790.93" y1="544.03" x2="794.82" y2="561.07" stroke-width="2.22" />
<line x1="789.27" y1="544.03" x2="785.38" y2="561.07" stroke-width="2.22" />
<line x1="787.78" y1="543.31" x2="776.88" y2="556.97" stroke-width="2.22" />
<line x1="786.75" y1="542.01" x2="771.00" y2="549.60" stroke-width="2.22" />
<line x1="786.38" y1="540.40" x2="768.90" y2="540.40" stroke-width="2.22" />
<line x1="786.75" y1="538.79" x2="771.00" y2="531.20" stroke-width="2.22" />
<line x1="787.78" y1="537.49" x2="776.88" y2="523.83" stroke-width="2.22" />
<line x1="789.27" y1="536.77" x2="785.38" y2="519.73" stroke-width="2.22" />
<line x1="790.93" y1="536.77" x2="794.82" y2="519.73" stroke-width="2.22" />
<line x1="792.42" y1="537.49" x2="803.32" y2="523.83" stroke-width="2.22" />
<line x1="793.45" y1="538.79" x2="809.20" y2="531.20" stroke-width="2.22" />
<circle cx="790.1" cy="540.4" r="6.2" fill="#111" stroke="none"/>
<path d="M490.6,512.2 Q501,507.6 512,512.2" stroke-width="2.4" fill="none" />
<line x1="498.00" y1="522.00" x2="499.20" y2="538.00" stroke-width="2.4" />
<line x1="501.00" y1="522.00" x2="501.60" y2="538.00" stroke-width="1.68" />
<path d="M757.21,522.17 A37.6,37.6 0 0 1 788.79,502.82" stroke-width="1.8"/>
<path d="M761.16,526.28 A32.2,32.2 0 0 1 788.98,508.22" stroke-width="1.8"/>
<line x1="757.40" y1="522.20" x2="758.40" y2="530.20" stroke-width="1.68" />
<line x1="790.40" y1="503.40" x2="790.20" y2="538.00" stroke-width="2.88" />
<path d="M787.6,501.6 L792.6,499.4 L795.0,503.6 L790.0,505.8 Z" stroke-width="1.2" fill="#111" />
<line x1="750.00" y1="536.80" x2="763.00" y2="536.80" stroke-width="2.4" />
</g>
<circle cx="320.4" cy="40.6" r="0.6" fill="#333" stroke="none"/>
<circle cx="390.6" cy="97.4" r="0.6" fill="#333" stroke="none"/>
<circle cx="147.4" cy="78.6" r="0.6" fill="#333" stroke="none"/>
<circle cx="884.4" cy="330.6" r="0.6" fill="#333" stroke="none"/>
<circle cx="872.6" cy="28.4" r="0.6" fill="#333" stroke="none"/>
<circle cx="134.8" cy="329.2" r="0.6" fill="#333" stroke="none"/>
<g id="lettering" opacity="0.99">
<text x="682.5" y="99.6" font-family='"Liberation Sans", sans-serif' fill="#111" stroke="#111" stroke-width="0.45" stroke-linejoin="round" textLength="11.0" lengthAdjust="spacingAndGlyphs"><tspan font-size="12.6">A</tspan></text>
<text x="698.0" y="99.6" font-family='"Liberation Sans", sans-serif' fill="#111" stroke="#111" stroke-width="0.45" stroke-linejoin="round" textLength="42.6" lengthAdjust="spacingAndGlyphs"><tspan font-size="12.6">R</tspan><tspan font-size="9.4">ACING</tspan></text>
<text x="749.0" y="99.6" font-family='"Liberation Sans", sans-serif' fill="#111" stroke="#111" stroke-width="0.45" stroke-linejoin="round" textLength="39.7" lengthAdjust="spacingAndGlyphs"><tspan font-size="12.6">L</tspan><tspan font-size="9.4">AND</tspan></text>
<text x="794.4" y="99.6" font-family='"Liberation Sans", sans-serif' fill="#111" stroke="#111" stroke-width="0.45" stroke-linejoin="round" textLength="45.3" lengthAdjust="spacingAndGlyphs"><tspan font-size="12.6">Y</tspan><tspan font-size="9.4">ACHT</tspan></text>
<text x="650.8" y="115.4" font-family='"Liberation Sans", sans-serif' fill="#111" stroke="#111" stroke-width="0.45" stroke-linejoin="round" textLength="43.0" lengthAdjust="spacingAndGlyphs"><tspan font-size="11">Designed</tspan></text>
<text x="695.2" y="115.4" font-family='"Liberation Sans", sans-serif' fill="#111" stroke="#111" stroke-width="0.45" stroke-linejoin="round" textLength="9.0" lengthAdjust="spacingAndGlyphs"><tspan font-size="9.6" font-style="italic">for</tspan></text>
<text x="709.4" y="115.4" font-family='"Liberation Sans", sans-serif' fill="#111" stroke="#111" stroke-width="0.2" textLength="21.4" lengthAdjust="spacingAndGlyphs"><tspan font-size="11.4" font-weight="bold">T</tspan><tspan font-size="9.2" font-weight="bold">HE</tspan></text>
<text x="736.3" y="115.6" font-family='"Liberation Sans", sans-serif' fill="#111" stroke="#111" stroke-width="0.3" textLength="51.2" lengthAdjust="spacingAndGlyphs"><tspan font-size="12.2" font-weight="bold">RUDDER</tspan></text>
<text x="798.4" y="115.4" font-family='"Liberation Sans", sans-serif' fill="#111" stroke="#111" stroke-width="0.45" stroke-linejoin="round" textLength="9.0" lengthAdjust="spacingAndGlyphs"><tspan font-size="11" font-style="italic">by</tspan></text>
<text x="812.8" y="115.4" font-family='"Liberation Sans", sans-serif' fill="#111" stroke="#111" stroke-width="0.45" stroke-linejoin="round" textLength="31.4" lengthAdjust="spacingAndGlyphs"><tspan font-size="11">H.Percy</tspan></text>
<text x="848.0" y="115.4" font-family='"Liberation Sans", sans-serif' fill="#111" stroke="#111" stroke-width="0.45" stroke-linejoin="round" textLength="32.8" lengthAdjust="spacingAndGlyphs"><tspan font-size="11">Ashley</tspan></text>
<text x="718.2" y="128.8" font-family='"Liberation Sans", sans-serif' font-size="7.4" font-weight="normal" text-anchor="start" fill="#111" textLength="18.2" lengthAdjust="spacingAndGlyphs" style="" stroke="#111" stroke-width="0.45">Area</text>
<text x="743.8" y="128.8" font-family='"Liberation Sans", sans-serif' font-size="7.4" font-weight="normal" text-anchor="start" fill="#111" textLength="34.6" lengthAdjust="spacingAndGlyphs" style="" stroke="#111" stroke-width="0.45">Mainsail</text>
<text x="793.3" y="128.8" font-family='"Liberation Sans", sans-serif' font-size="7.2" font-weight="normal" text-anchor="start" fill="#111" textLength="20.6" lengthAdjust="spacingAndGlyphs" style="" stroke="#111" stroke-width="0.45">171.31</text>
<text x="818.0" y="128.8" font-family='"Liberation Sans", sans-serif' font-size="6.4" font-weight="normal" text-anchor="start" fill="#111" textLength="8.0" lengthAdjust="spacingAndGlyphs" style="" stroke="#111" stroke-width="0.45">Sq.</text>
<text x="828.4" y="129.4" font-family='"Liberation Sans", sans-serif' font-size="8.4" font-weight="normal" text-anchor="start" fill="#111" textLength="6.6" lengthAdjust="spacingAndGlyphs" style="" stroke="#111" stroke-width="0.45">ft.</text>
<text x="726.4" y="137.4" font-family='"Liberation Sans", sans-serif' font-size="7.4" font-weight="normal" text-anchor="start" fill="#111" style="" stroke="#111" stroke-width="0.45">&quot;</text>
<text x="745.6" y="137.0" font-family='"Liberation Sans", sans-serif' font-size="8" font-weight="normal" text-anchor="start" fill="#111" textLength="13.6" lengthAdjust="spacingAndGlyphs" style="" stroke="#111" stroke-width="0.45">Jib</text>
<text x="797.0" y="136.9" font-family='"Liberation Sans", sans-serif' font-size="6.2" font-weight="normal" text-anchor="start" fill="#111" textLength="18.4" lengthAdjust="spacingAndGlyphs" style="" stroke="#111" stroke-width="0.45">25.87</text>
<text x="821.4" y="138.4" font-family='"Liberation Sans", sans-serif' font-size="6" font-weight="normal" text-anchor="start" fill="#111" style="" stroke="#111" stroke-width="0.45">&quot;</text>
<text x="829.8" y="138.4" font-family='"Liberation Sans", sans-serif' font-size="6" font-weight="normal" text-anchor="start" fill="#111" style="" stroke="#111" stroke-width="0.45">&quot;</text>
<text x="716.2" y="148.4" font-family='"Liberation Sans", sans-serif' font-size="8" font-weight="normal" text-anchor="start" fill="#111" textLength="21.0" lengthAdjust="spacingAndGlyphs" style="" stroke="#111" stroke-width="0.45">Total</text>
<text x="743.8" y="148.4" font-family='"Liberation Sans", sans-serif' font-size="8" font-weight="normal" text-anchor="start" fill="#111" textLength="16.4" lengthAdjust="spacingAndGlyphs" style="" stroke="#111" stroke-width="0.45">Sail</text>
<text x="767.0" y="148.4" font-family='"Liberation Sans", sans-serif' font-size="8" font-weight="normal" text-anchor="start" fill="#111" textLength="21.0" lengthAdjust="spacingAndGlyphs" style="" stroke="#111" stroke-width="0.45">Area</text>
<text x="793.3" y="148.4" font-family='"Liberation Sans", sans-serif' font-size="8" font-weight="normal" text-anchor="start" fill="#111" textLength="25.2" lengthAdjust="spacingAndGlyphs" style="" stroke="#111" stroke-width="0.45">197.18</text>
<text x="820.3" y="148.4" font-family='"Liberation Sans", sans-serif' font-size="6.6" font-weight="normal" text-anchor="start" fill="#111" textLength="20.4" lengthAdjust="spacingAndGlyphs" style="" stroke="#111" stroke-width="0.45">Square</text>
<text x="843.2" y="148.4" font-family='"Liberation Sans", sans-serif' font-size="6.6" font-weight="normal" text-anchor="start" fill="#111" textLength="13.0" lengthAdjust="spacingAndGlyphs" style="" stroke="#111" stroke-width="0.45">Feet</text>
<line x1="679.80" y1="165.00" x2="852.40" y2="165.00" stroke-width="0.6" stroke-dasharray="9 1.5 3 2"/>
<line x1="679.80" y1="172.40" x2="852.40" y2="172.40" stroke-width="1.92" />
<line x1="680.00" y1="163.40" x2="680.00" y2="173.40" stroke-width="1.2" />
<line x1="852.20" y1="164.40" x2="852.20" y2="173.40" stroke-width="1.2" />
<line x1="731.40" y1="162.60" x2="731.40" y2="166.00" stroke-width="1.2" />
<text x="730.3" y="162.0" font-family='"Liberation Sans", sans-serif' font-size="4.2" font-weight="bold" text-anchor="start" fill="#111" style="" stroke="#111" stroke-width="0.2">0</text>
<line x1="755.20" y1="162.60" x2="755.20" y2="166.00" stroke-width="1.2" />
<text x="754.1" y="162.0" font-family='"Liberation Sans", sans-serif' font-size="4.2" font-weight="bold" text-anchor="start" fill="#111" style="" stroke="#111" stroke-width="0.2">1</text>
<line x1="780.00" y1="162.60" x2="780.00" y2="166.00" stroke-width="1.2" />
<text x="778.9" y="162.0" font-family='"Liberation Sans", sans-serif' font-size="4.2" font-weight="bold" text-anchor="start" fill="#111" style="" stroke="#111" stroke-width="0.2">2</text>
<line x1="803.80" y1="162.60" x2="803.80" y2="166.00" stroke-width="1.2" />
<text x="802.7" y="162.0" font-family='"Liberation Sans", sans-serif' font-size="4.2" font-weight="bold" text-anchor="start" fill="#111" style="" stroke="#111" stroke-width="0.2">3</text>
<line x1="828.20" y1="162.60" x2="828.20" y2="166.00" stroke-width="1.2" />
<text x="827.1" y="162.0" font-family='"Liberation Sans", sans-serif' font-size="4.2" font-weight="bold" text-anchor="start" fill="#111" style="" stroke="#111" stroke-width="0.2">4</text>
<line x1="851.80" y1="162.60" x2="851.80" y2="166.00" stroke-width="1.2" />
<text x="850.7" y="162.0" font-family='"Liberation Sans", sans-serif' font-size="4.2" font-weight="bold" text-anchor="start" fill="#111" style="" stroke="#111" stroke-width="0.2">5</text>
<line x1="680.00" y1="166.20" x2="731.00" y2="166.20" stroke-width="0.72" stroke-dasharray="1 1.6"/>
<text x="728.4" y="171.8" font-family='"Liberation Sans", sans-serif' font-size="5.8" font-weight="normal" text-anchor="start" fill="#111" textLength="14.2" lengthAdjust="spacingAndGlyphs" style="font-style:italic" stroke="#111" stroke-width="0.3">Scale</text>
<text x="750.2" y="171.8" font-family='"Liberation Sans", sans-serif' font-size="5.8" font-weight="normal" text-anchor="start" fill="#111" textLength="4.6" lengthAdjust="spacingAndGlyphs" style="" stroke="#111" stroke-width="0.3">in</text>
<text x="758.0" y="171.8" font-family='"Liberation Sans", sans-serif' font-size="5.8" font-weight="normal" text-anchor="start" fill="#111" textLength="12.6" lengthAdjust="spacingAndGlyphs" style="font-style:italic" stroke="#111" stroke-width="0.3">feet</text>
<text transform="translate(524.2 157.2) rotate(-70)" font-family='"Liberation Sans", sans-serif' font-size="7.6" font-weight="bold" fill="#111" stroke="#111" stroke-width="0.25" textLength="15" lengthAdjust="spacingAndGlyphs">9'6&quot;</text>
<text transform="translate(692.6 225.6) rotate(56)" font-family='"Liberation Sans", sans-serif' font-size="7.0" font-weight="bold" fill="#111" stroke="#111" stroke-width="0.25" textLength="18" lengthAdjust="spacingAndGlyphs">21'9&quot;</text>
<text transform="translate(483.6 359.0) rotate(-86)" font-family='"Liberation Sans", sans-serif' font-size="6.6" font-weight="bold" fill="#111" stroke="#111" stroke-width="0.25" textLength="15.4" lengthAdjust="spacingAndGlyphs">10'9&quot;</text>
<text transform="translate(454.4 404.8) rotate(-84)" font-family='"Liberation Sans", sans-serif' font-size="6.2" font-weight="bold" fill="#111" stroke="#111" stroke-width="0.25" textLength="15.4" lengthAdjust="spacingAndGlyphs">10'3&quot;</text>
<text transform="translate(388.8 414.6) rotate(-71)" font-family='"Liberation Sans", sans-serif' font-size="6.4" font-weight="bold" fill="#111" stroke="#111" stroke-width="0.25" textLength="14.4" lengthAdjust="spacingAndGlyphs">11'6&quot;</text>
<text transform="translate(406.4 511.4) rotate(-9)" font-family='"Liberation Sans", sans-serif' font-size="7.0" font-weight="bold" fill="#111" stroke="#111" stroke-width="0.25" textLength="6.4" lengthAdjust="spacingAndGlyphs">8'</text>
<text transform="translate(677.8 480.2) rotate(-7)" font-family='"Liberation Sans", sans-serif' font-size="7.4" font-weight="bold" fill="#111" stroke="#111" stroke-width="0.25" textLength="16.4" lengthAdjust="spacingAndGlyphs">16'9&quot;</text>
<circle cx="580.6" cy="342.6" r="5.2" stroke-width="1.9"/>
<line x1="575.20" y1="342.60" x2="586.00" y2="342.60" stroke-width="1.68" />
<line x1="580.60" y1="337.20" x2="580.60" y2="348.00" stroke-width="1.68" />
<circle cx="615" cy="325.4" r="2.7" stroke-width="1.4"/>
<circle cx="615" cy="325.4" r="1.5" fill="#111" stroke="none"/>
<g transform="rotate(-0.36 275 602.8)">
<text x="275.0" y="602.8" font-family='"Liberation Serif", serif' font-size="12" font-weight="bold" text-anchor="start" fill="#111" textLength="11.1" lengthAdjust="spacingAndGlyphs" style="" stroke="#111" stroke-width="0.5">A</text>
<text x="295.2" y="602.8" font-family='"Liberation Serif", serif' font-size="12" font-weight="bold" text-anchor="start" fill="#111" textLength="42.6" lengthAdjust="spacingAndGlyphs" style="" stroke="#111" stroke-width="0.5">Racing</text>
<text x="346.1" y="602.8" font-family='"Liberation Serif", serif' font-size="12" font-weight="bold" text-anchor="start" fill="#111" textLength="29.8" lengthAdjust="spacingAndGlyphs" style="" stroke="#111" stroke-width="0.5">Land</text>
<text x="385.9" y="602.8" font-family='"Liberation Serif", serif' font-size="12" font-weight="bold" text-anchor="start" fill="#111" textLength="37.7" lengthAdjust="spacingAndGlyphs" style="" stroke="#111" stroke-width="0.5">Yacht.</text>
<text x="441.6" y="602.8" font-family='"Liberation Serif", serif' font-size="12" font-weight="bold" text-anchor="start" fill="#111" textLength="54.5" lengthAdjust="spacingAndGlyphs" style="" stroke="#111" stroke-width="0.5">Designed</text>
<text x="505.6" y="602.8" font-family='"Liberation Serif", serif' font-size="12" font-weight="bold" text-anchor="start" fill="#111" textLength="14.1" lengthAdjust="spacingAndGlyphs" style="" stroke="#111" stroke-width="0.5">by</text>
<text x="529.1" y="602.8" font-family='"Liberation Serif", serif' font-size="12" font-weight="bold" text-anchor="start" fill="#111" textLength="12.9" lengthAdjust="spacingAndGlyphs" style="" stroke="#111" stroke-width="0.5">H.</text>
<text x="551.9" y="602.8" font-family='"Liberation Serif", serif' font-size="12" font-weight="bold" text-anchor="start" fill="#111" textLength="32.9" lengthAdjust="spacingAndGlyphs" style="" stroke="#111" stroke-width="0.5">Percy</text>
<text x="594.7" y="602.8" font-family='"Liberation Serif", serif' font-size="12" font-weight="bold" text-anchor="start" fill="#111" textLength="43.4" lengthAdjust="spacingAndGlyphs" style="" stroke="#111" stroke-width="0.5">Ashley</text>
</g>
</g>
</svg>
</body>
</html>
